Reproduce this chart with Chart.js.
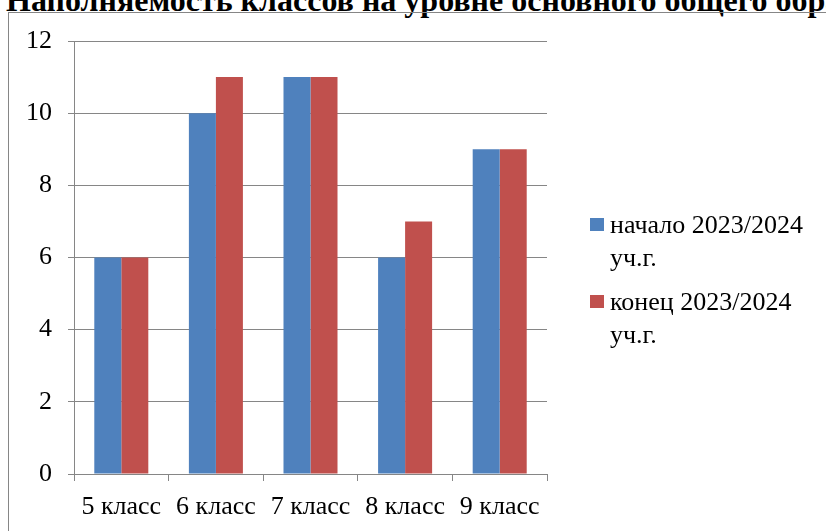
<!DOCTYPE html>
<html>
<head>
<meta charset="utf-8">
<script src="https://cdn.jsdelivr.net/npm/chart.js@4/dist/chart.umd.min.js"></script>
<style>
  html, body { margin: 0; padding: 0; }
  body { width: 826px; height: 531px; overflow: hidden; position: relative; background: #fff;
         font-family: "Liberation Serif", "Times New Roman", serif; }
  #title { position: absolute; left: 6px; top: -18px; white-space: nowrap; line-height: 1.15;
           font-weight: bold; font-size: 32px; color: #000; }
  #frame { position: absolute; left: 8px; top: 12px; width: 900px; height: 600px;
           border: 1px solid #868686; box-sizing: border-box; }
  #chart { position: absolute; left: 0; top: 0; }
  #legend { position: absolute; left: 590px; top: 208px; font-size: 26px; color: #000; }
  .item { position: relative; padding-left: 20px; line-height: 33px; margin-bottom: 11px; white-space: nowrap; }
  .box { position: absolute; left: 0; top: 10px; width: 14px; height: 13px; }
</style>
</head>
<body>
<div id="title">Наполняемость классов на уровне основного общего образования</div>
<div id="frame"></div>
<canvas id="chart" width="826" height="531"></canvas>
<div id="legend"></div>
<script>
const categories = ['5 класс', '6 класс', '7 класс', '8 класс', '9 класс'];
const startYear = [6, 10, 11, 6, 9];
const endYear = [6, 11, 11, 7, 9];
const seriesNames = [['начало 2023/2024', 'уч.г.'], ['конец 2023/2024', 'уч.г.']];
const seriesColors = ['#4F81BD', '#C0504D'];

const fontFamily = '"Liberation Serif", "Times New Roman", serif';
const gridColor = '#868686';

const chart = new Chart(document.getElementById('chart'), {
    type: 'bar',
    data: {
        labels: categories,
        datasets: [
            { label: seriesNames[0].join(' '), data: startYear, backgroundColor: seriesColors[0] },
            { label: seriesNames[1].join(' '), data: endYear, backgroundColor: seriesColors[1] }
        ]
    },
    options: {
        responsive: false,
        animation: false,
        devicePixelRatio: 1,
        categoryPercentage: 0.571,
        barPercentage: 1,
        layout: { padding: { left: 0, top: 41, right: 279, bottom: 0 } },
        plugins: {
            legend: { display: false },
            tooltip: { enabled: false }
        },
        scales: {
            x: {
                grid: { drawOnChartArea: false, color: gridColor, tickLength: 7, offset: true },
                border: { color: gridColor },
                ticks: { color: '#000', font: { family: fontFamily, size: 26 }, padding: 11, maxRotation: 0 },
                afterFit: (scale) => { scale.height = 57; }
            },
            y: {
                min: 0,
                max: 12,
                grid: { color: gridColor, tickLength: 6 },
                border: { color: gridColor },
                ticks: { stepSize: 2, color: '#000', font: { family: fontFamily, size: 26 }, padding: 16 },
                afterFit: (scale) => { scale.width = 74; }
            }
        }
    }
});

// legend with two-line labels, built from the datasets
const legend = document.getElementById('legend');
chart.data.datasets.forEach((ds, i) => {
    const item = document.createElement('div');
    item.className = 'item';
    item.innerHTML = '<span class="box" style="background:' + ds.backgroundColor + '"></span>' +
        seriesNames[i].join('<br>');
    legend.appendChild(item);
});
</script>
</body>
</html>
